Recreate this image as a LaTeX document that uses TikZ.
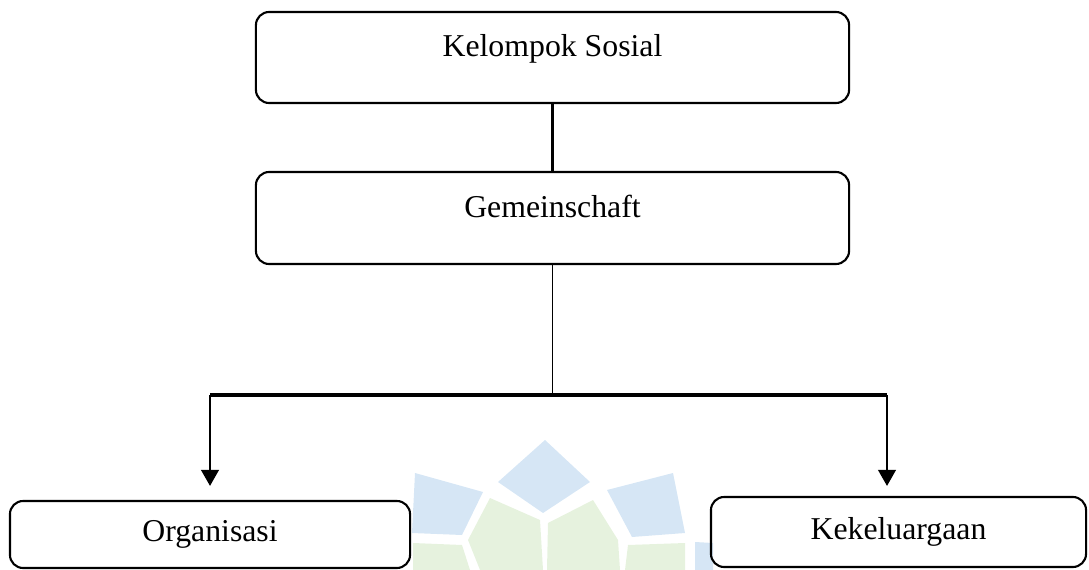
\documentclass[tikz,border=0pt]{standalone}
\usepackage{fontspec}
\setmainfont{Liberation Serif}
\usetikzlibrary{arrows.meta}
\definecolor{wmblue}{RGB}{214,230,245}
\definecolor{wmgreen}{RGB}{230,242,222}

\tikzset{
    kotak/.style={draw, rounded corners=0.33cm, line width=1.5pt, font=\fontsize{22.6}{27}\selectfont},
    kotakatas/.style={kotak, text height=0.72em, text depth=0.22em+0.22cm},
    panah/.style={-{Triangle[width=0.44cm, length=0.4cm]}, line width=1.5pt}
}

\begin{document}
\begin{tikzpicture}[x=0.025cm, y=-0.025cm]
        \useasboundingbox (0,0) rectangle (1089,570);

        % Watermark (latar belakang)
        \fill[wmblue] (545,440) -- (590,482) -- (543,513) -- (498,482) -- cycle;
        \fill[wmblue] (415,473) -- (483,492) -- (462,535) -- (412,533) -- cycle;
        \fill[wmblue] (607,490) -- (673,473) -- (685,533) -- (632,537) -- cycle;
        \fill[wmblue] (695,542) -- (713,543) -- (713,570) -- (695,570) -- cycle;
        \fill[wmgreen] (490,498) -- (540,520) -- (543,570) -- (480,570) -- (468,540) -- cycle;
        \fill[wmgreen] (593,500) -- (548,523) -- (547,570) -- (620,570) -- (618,540) -- cycle;
        \fill[wmgreen] (413,543) -- (462,545) -- (470,570) -- (413,570) -- cycle;
        \fill[wmgreen] (628,545) -- (685,543) -- (685,570) -- (625,570) -- cycle;

        % Kotak
        \node[kotakatas, minimum width=14.825cm, minimum height=2.275cm] (kelompok) at (552.5,57.5) {Kelompok Sosial};
        \node[kotakatas, minimum width=14.825cm, minimum height=2.3cm] (gemein) at (552.5,218) {Gemeinschaft};
        \node[kotak, minimum width=10cm, minimum height=1.675cm] (org) at (210,534.5) {Organisasi};
        \node[kotak, minimum width=9.375cm, minimum height=1.75cm] (kel) at (898.5,532) {Kekeluargaan};

        % Garis penghubung
        \coordinate (cabang) at (552.5,395);
        \coordinate (kiri) at (210,395);
        \coordinate (kanan) at (887,395);
        \draw[line width=1.8pt] (kelompok.south) -- (gemein.north);
        \draw[line width=0.8pt] (gemein.south) -- (cabang);
        \draw[line width=2.4pt] (kiri) -- (kanan);

        % Panah ke bawah
        \draw[panah, shorten >=0.35cm] (kiri) -- (org.north);
        \draw[panah, shorten >=0.25cm] (kanan) -- (kanan |- kel.north);
    \end{tikzpicture}
\end{document}
